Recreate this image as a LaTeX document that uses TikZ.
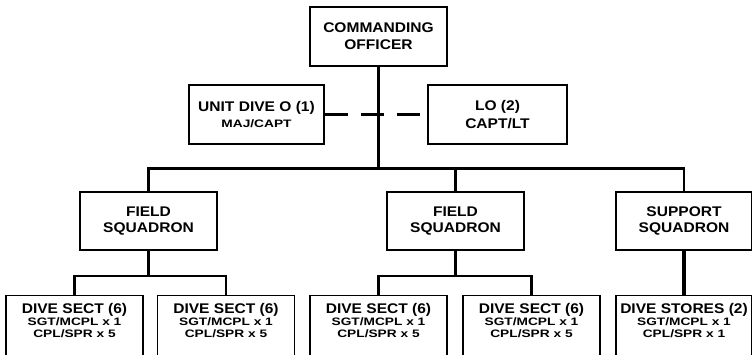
\documentclass[tikz,border=0pt]{standalone}
\usepackage{fontspec}
\newfontfamily\chartbig[FakeStretch=1.11]{Liberation Sans}
\newfontfamily\chartplain{Liberation Sans}
\newcommand\subln[1]{{\chartplain\bfseries\fontsize{10.8}{12}\selectfont\scalebox{1.27}[1]{#1}}}
\begin{document}
\begin{tikzpicture}[x=1pt,y=-1pt,
  box/.style={draw, line width=1.3pt, align=center, inner sep=0pt,
    font=\chartbig\bfseries\fontsize{14}{16.7}\selectfont},
  dsbox/.style={draw, line width=1.3pt, align=center, anchor=north,
    inner xsep=0pt, inner ysep=8pt, minimum width=137pt,
    font=\chartbig\bfseries\fontsize{14}{12}\selectfont},
  thinline/.style={line width=2.3pt},
  thickline/.style={line width=3.1pt},
  dashline/.style={line width=2.7pt, dash pattern=on 23pt off 13pt}]
\useasboundingbox (0,0) rectangle (752,354);
\clip (0,0) rectangle (752,354);
\fill[white] (0,0) rectangle (752,354);

% top level
\node[box, minimum width=137pt, minimum height=59pt] (co) at (378.5,36.5) {COMMANDING\\OFFICER};
\node[box, minimum width=135pt, minimum height=59pt,
  font=\chartbig\bfseries\fontsize{14}{15.6}\selectfont] (udo) at (256.5,114.5)
  {UNIT DIVE O (1)\\\subln{MAJ/CAPT}};
\node[box, minimum width=139pt, minimum height=59pt,
  font=\chartbig\bfseries\fontsize{14}{18}\selectfont] (lo) at (497.5,114.5) {LO (2)\\CAPT/LT};

% squadrons
\node[box, minimum width=137pt, minimum height=58pt] (fs1) at (148.5,221) {FIELD\\SQUADRON};
\node[box, minimum width=137pt, minimum height=58pt] (fs2) at (455.5,221) {FIELD\\SQUADRON};
\node[box, minimum width=136pt, minimum height=58pt] (ss) at (684,221) {SUPPORT\\SQUADRON};

% sections
\node[dsbox] (ds1) at (74.5,295) {DIVE SECT (6)\\\subln{SGT/MCPL x 1}\\\subln{CPL/SPR x 5}\rule[-40pt]{0pt}{40pt}};
\node[dsbox] (ds2) at (226,295) {DIVE SECT (6)\\\subln{SGT/MCPL x 1}\\\subln{CPL/SPR x 5}\rule[-40pt]{0pt}{40pt}};
\node[dsbox] (ds3) at (378.5,295) {DIVE SECT (6)\\\subln{SGT/MCPL x 1}\\\subln{CPL/SPR x 5}\rule[-40pt]{0pt}{40pt}};
\node[dsbox] (ds4) at (531.5,295) {DIVE SECT (6)\\\subln{SGT/MCPL x 1}\\\subln{CPL/SPR x 5}\rule[-40pt]{0pt}{40pt}};
\node[dsbox, minimum width=136pt] (dst) at (684,295) {DIVE STORES (2)\\\subln{SGT/MCPL x 1}\\\subln{CPL/SPR x 1}\rule[-40pt]{0pt}{40pt}};

% junction coordinates
\coordinate (j0) at (378.5,169);
\coordinate (j1) at (148.5,276);
\coordinate (j2) at (455.5,276);

% connectors
\draw[dashline] (udo.east) -- (lo.west);
\draw[thickline] (co.south) -- (j0);
\draw[thinline] (fs1.north) -- ++(0,-23) -| (ss.north);
\draw[thinline] (fs2.north) -- ++(0,-23);
\draw[thickline] (fs1.south) -- (j1);
\draw[thickline] (fs2.south) -- (j2);
\draw[thickline] (ss.south) -- (dst.north);
\draw[thinline] (ds1.north) -- ++(0,-19) -| (ds2.north);
\draw[thinline] (ds3.north) -- ++(0,-19) -| (ds4.north);
\end{tikzpicture}
\end{document}
